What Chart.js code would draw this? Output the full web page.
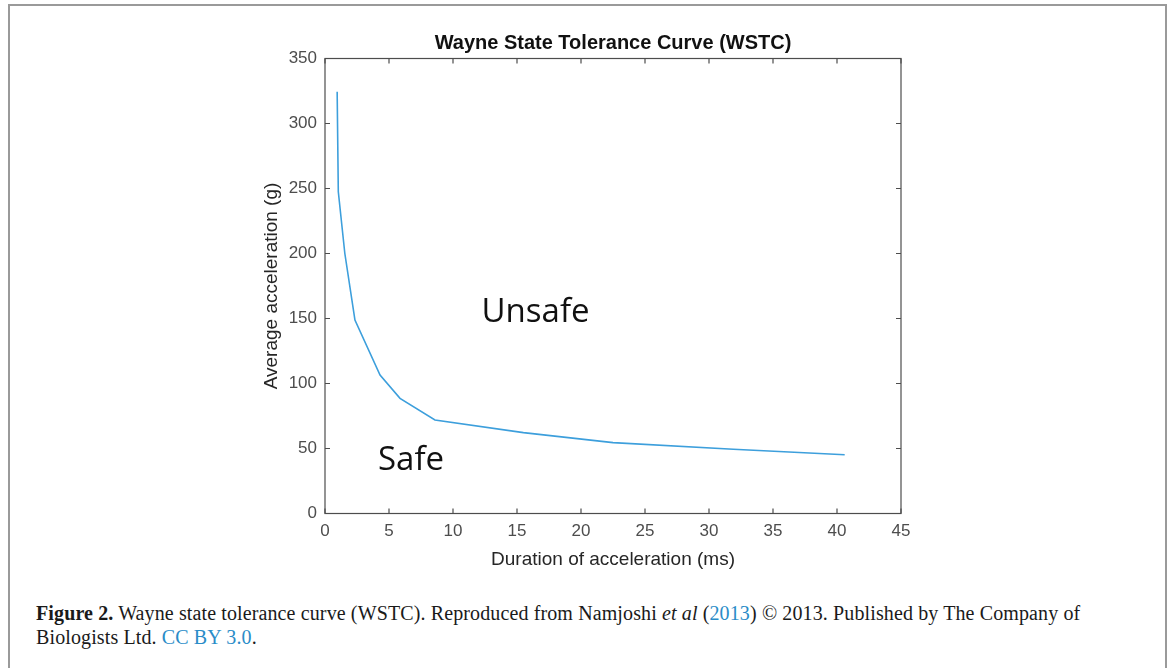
<!DOCTYPE html>
<html>
<head>
<meta charset="utf-8">
<script src="https://cdn.jsdelivr.net/npm/chart.js@4.4.1/dist/chart.umd.min.js"></script>
<style>
  body { margin: 0; background: #fff; }
  #frame {
    position: absolute; left: 8px; top: 4px; width: 1155px; height: 680px;
    border: 2px solid #9a9a9a; border-bottom: none;
  }
  #wrap { position: absolute; left: 100px; top: 0; width: 1026px; height: 600px; }
  #caption {
    position: absolute; left: 36px; top: 602px; width: 1110px;
    font-family: "Liberation Serif", serif; font-size: 20px; line-height: 23.5px; color: #1a1a1a;
    letter-spacing: 0.12px;
  }
  #caption a { color: #2a8cc8; text-decoration: none; }
</style>
</head>
<body>
<div id="frame"></div>
<div id="wrap"><canvas id="myChart"></canvas></div>
<div id="caption"><b>Figure 2.</b> Wayne state tolerance curve (WSTC). Reproduced from Namjoshi <i>et al</i> (<a>2013</a>) © 2013. Published by The Company of<br>Biologists Ltd. <a>CC BY 3.0</a>.</div>
<script>
// duration (ms) vs average acceleration (g)
let duration = [0.95, 1.04, 1.55, 2.34, 4.30, 5.86, 8.59, 15.5, 22.5, 31.9, 40.6];
let accel    = [324.5, 247.5, 200, 148.8, 106.5, 88.6, 71.9, 62.2, 54.5, 49.4, 45.2];

let xTicks = [0, 5, 10, 15, 20, 25, 30, 35, 40, 45];
let yTicks = [0, 50, 100, 150, 200, 250, 300, 350];

// region labels: [text, x, y(baseline)]
let regions = [['Unsafe', 16.45, 147.1], ['Safe', 6.72, 33.5]];

let axisColor = '#4d4d4d';

// matlab style box with ticks pointing inside
var boxPlugin = {
  id: 'box',
  afterDatasetsDraw(chart) {
    let ctx = chart.ctx;
    let a = chart.chartArea;
    let xs = chart.scales.x, ys = chart.scales.y;
    ctx.save();
    ctx.strokeStyle = axisColor;
    ctx.lineWidth = 1.2;
    ctx.strokeRect(a.left, a.top, a.right - a.left, a.bottom - a.top);
    ctx.beginPath();
    xTicks.forEach((v) => {
      let px = xs.getPixelForValue(v);
      ctx.moveTo(px, a.bottom); ctx.lineTo(px, a.bottom - 5);
      ctx.moveTo(px, a.top); ctx.lineTo(px, a.top + 5);
    });
    yTicks.forEach((v) => {
      let py = ys.getPixelForValue(v);
      ctx.moveTo(a.left, py); ctx.lineTo(a.left + 5, py);
      ctx.moveTo(a.right, py); ctx.lineTo(a.right - 5, py);
    });
    ctx.stroke();

    ctx.fillStyle = '#111';
    ctx.font = '33px "Open Sans"';
    ctx.textAlign = 'center';
    ctx.textBaseline = 'alphabetic';
    regions.forEach((r) => {
      ctx.fillText(r[0], xs.getPixelForValue(r[1]), ys.getPixelForValue(r[2]));
    });
    ctx.restore();
  }
};

var ctx = document.getElementById('myChart').getContext('2d');
var chartjs = new Chart(ctx, {
  type: 'line',
  data: {
    datasets: [{
      data: duration.map((d, i) => ({ x: d, y: accel[i] })),
      borderColor: '#3d9fdc',
      borderWidth: 1.6,
      pointRadius: 0,
      fill: false,
      tension: 0
    }]
  },
  options: {
    responsive: true,
    maintainAspectRatio: false,
    animation: false,
    layout: { padding: { left: 0, right: 225, top: 0, bottom: 0 } },
    plugins: {
      legend: { display: false },
      tooltip: { enabled: false },
      title: {
        display: true,
        fullSize: false,
        text: 'Wayne State Tolerance Curve (WSTC)',
        color: '#111',
        font: { family: '"Liberation Sans", Arial', size: 20, weight: 'bold', lineHeight: 1.2 },
        padding: { top: 31, bottom: 3.5 }
      }
    },
    scales: {
      x: {
        type: 'linear',
        min: 0, max: 45,
        afterFit: (s) => { s.height = 86.5; },
        afterBuildTicks: (s) => { s.ticks = xTicks.map((v) => ({ value: v })); },
        grid: { display: false, drawTicks: false },
        border: { display: false },
        ticks: { color: axisColor, padding: 8, font: { family: '"Liberation Sans", Arial', size: 17 } },
        title: {
          display: true,
          text: 'Duration of acceleration (ms)',
          color: '#262626',
          font: { family: '"Liberation Sans", Arial', size: 19, lineHeight: 1.2 },
          padding: { top: 0, bottom: 28.6 }
        }
      },
      y: {
        type: 'linear',
        min: 0, max: 350,
        afterFit: (s) => { s.width = 225; },
        afterBuildTicks: (s) => { s.ticks = yTicks.map((v) => ({ value: v })); },
        grid: { display: false, drawTicks: false },
        border: { display: false },
        ticks: { color: axisColor, padding: 8, font: { family: '"Liberation Sans", Arial', size: 17 } },
        title: {
          display: true,
          text: 'Average acceleration (g)',
          color: '#262626',
          font: { family: '"Liberation Sans", Arial', size: 19, lineHeight: 1.2 },
          padding: { top: 160, bottom: 0 }
        }
      }
    }
  },
  plugins: [boxPlugin]
});
</script>
</body>
</html>
